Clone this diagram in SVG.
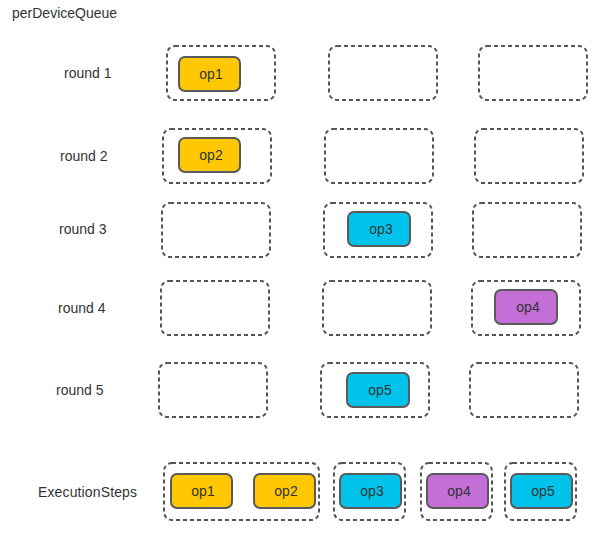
<svg xmlns="http://www.w3.org/2000/svg" width="604" height="533" viewBox="0 0 604 533">
  <style>
    .lbl { font-family: "Liberation Sans", Arial, sans-serif; font-size: 14px; fill: #333; }
    .slot { fill: none; stroke: #555; stroke-width: 2; stroke-dasharray: 4 3; }
    .op { stroke: #5a5a5a; stroke-width: 2; }
    .y { fill: #FFC803; }
    .c { fill: #00C3EC; }
    .p { fill: #C46FD8; }
    .opt { font-family: "Liberation Sans", Arial, sans-serif; font-size: 14px; fill: #333; text-anchor: middle; }
  </style>
  <rect width="604" height="533" fill="#fff"/>
  <text class="lbl" x="12" y="18">perDeviceQueue</text>

  <!-- round labels -->
  <g id="labels">
    <text class="lbl" x="64" y="78">round 1</text>
    <text class="lbl" x="60" y="161">round 2</text>
    <text class="lbl" x="59" y="234">round 3</text>
    <text class="lbl" x="58" y="313">round 4</text>
    <text class="lbl" x="56" y="395">round 5</text>
    <text class="lbl" x="38" y="497" textLength="99">ExecutionSteps</text>
  </g>

  <!-- round 1 -->
  <g id="r1">
    <rect class="slot" x="167" y="46" width="108" height="54" rx="8"/>
    <rect class="slot" x="329" y="46" width="108" height="54" rx="8"/>
    <rect class="slot" x="479" y="46" width="108" height="54" rx="8"/>
    <g id="r1-op1">
      <rect class="op y" x="179" y="57" width="61" height="34" rx="6"/>
      <text class="opt" x="211" y="79">op1</text>
    </g>
  </g>

  <!-- round 2 -->
  <g id="r2">
    <rect class="slot" x="163" y="129" width="108" height="54" rx="8"/>
    <rect class="slot" x="325" y="129" width="108" height="54" rx="8"/>
    <rect class="slot" x="475" y="129" width="108" height="54" rx="8"/>
    <g id="r2-op2">
      <rect class="op y" x="179" y="138" width="61" height="34" rx="6"/>
      <text class="opt" x="211" y="160">op2</text>
    </g>
  </g>

  <!-- round 3 -->
  <g id="r3">
    <rect class="slot" x="162" y="203" width="108" height="54" rx="8"/>
    <rect class="slot" x="324" y="203" width="108" height="54" rx="8"/>
    <rect class="slot" x="473" y="203" width="108" height="54" rx="8"/>
    <g id="r3-op3">
      <rect class="op c" x="348" y="212" width="62" height="34" rx="6"/>
      <text class="opt" x="381" y="234">op3</text>
    </g>
  </g>

  <!-- round 4 -->
  <g id="r4">
    <rect class="slot" x="161" y="281" width="108" height="54" rx="8"/>
    <rect class="slot" x="323" y="281" width="108" height="54" rx="8"/>
    <rect class="slot" x="472" y="281" width="108" height="54" rx="8"/>
    <g id="r4-op4">
      <rect class="op p" x="495" y="290" width="62" height="34" rx="6"/>
      <text class="opt" x="528" y="312">op4</text>
    </g>
  </g>

  <!-- round 5 -->
  <g id="r5">
    <rect class="slot" x="159" y="363" width="108" height="54" rx="8"/>
    <rect class="slot" x="321" y="363" width="108" height="54" rx="8"/>
    <rect class="slot" x="470" y="363" width="108" height="54" rx="8"/>
    <g id="r5-op5">
      <rect class="op c" x="347" y="373" width="62" height="34" rx="6"/>
      <text class="opt" x="380" y="395">op5</text>
    </g>
  </g>

  <!-- execution steps -->
  <g id="steps">
    <rect class="slot" x="164" y="463" width="155" height="57" rx="8"/>
    <rect class="slot" x="334" y="463" width="71" height="57" rx="8"/>
    <rect class="slot" x="421" y="463" width="71" height="57" rx="8"/>
    <rect class="slot" x="505" y="463" width="71" height="57" rx="8"/>
    <g id="s-op1">
      <rect class="op y" x="171" y="474" width="61" height="34" rx="6"/>
      <text class="opt" x="203" y="496">op1</text>
    </g>
    <g id="s-op2">
      <rect class="op y" x="254" y="474" width="61" height="34" rx="6"/>
      <text class="opt" x="286" y="496">op2</text>
    </g>
    <g id="s-op3">
      <rect class="op c" x="340" y="474" width="61" height="34" rx="6"/>
      <text class="opt" x="372" y="496">op3</text>
    </g>
    <g id="s-op4">
      <rect class="op p" x="427" y="474" width="61" height="34" rx="6"/>
      <text class="opt" x="459" y="496">op4</text>
    </g>
    <g id="s-op5">
      <rect class="op c" x="511" y="474" width="61" height="34" rx="6"/>
      <text class="opt" x="543" y="496">op5</text>
    </g>
  </g>
</svg>
